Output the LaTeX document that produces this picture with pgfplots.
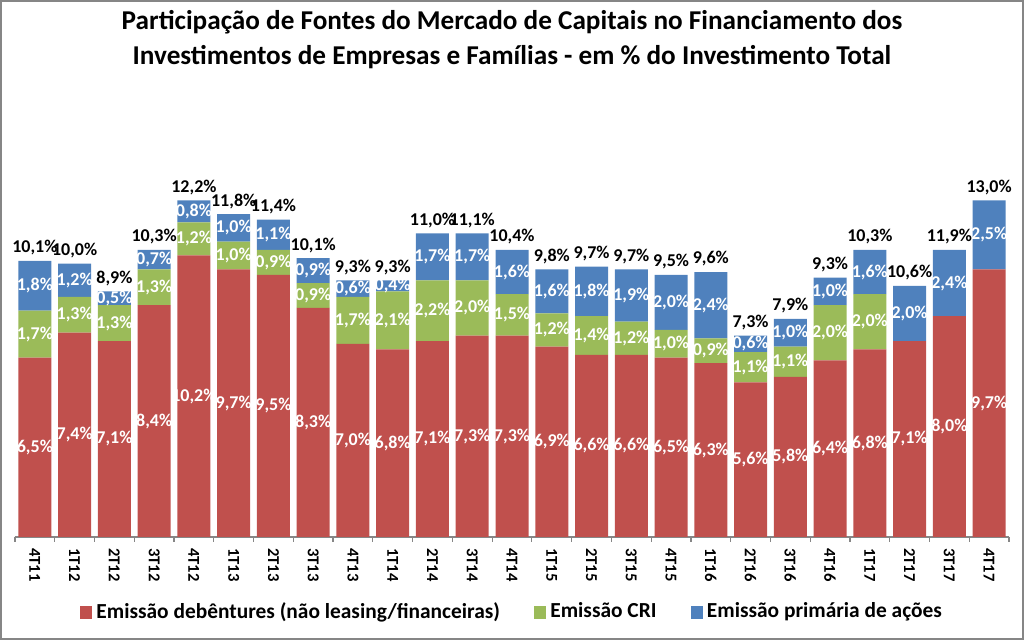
\documentclass[border=0pt]{standalone}
\usepackage{pgfplots}
\pgfplotsset{compat=1.18}
\usepackage{pgfplotstable}
\usepackage{fontspec}
\setmainfont{Carlito}
\definecolor{cred}{HTML}{C0504D}
\definecolor{cgreen}{HTML}{9BBB59}
\definecolor{cblue}{HTML}{4F81BD}
\definecolor{cframe}{HTML}{868686}

\pgfplotstableread{
x deb cri aco tot
0 6.5 1.7 1.8 10.1
1 7.4 1.3 1.2 10.0
2 7.1 1.3 0.5 8.9
3 8.4 1.3 0.7 10.3
4 10.2 1.2 0.8 12.2
5 9.7 1.0 1.0 11.8
6 9.5 0.9 1.1 11.4
7 8.3 0.9 0.9 10.1
8 7.0 1.7 0.6 9.3
9 6.8 2.1 0.4 9.3
10 7.1 2.2 1.7 11.0
11 7.3 2.0 1.7 11.1
12 7.3 1.5 1.6 10.4
13 6.9 1.2 1.6 9.8
14 6.6 1.4 1.8 9.7
15 6.6 1.2 1.9 9.7
16 6.5 1.0 2.0 9.5
17 6.3 0.9 2.4 9.6
18 5.6 1.1 0.6 7.3
19 5.8 1.1 1.0 7.9
20 6.4 2.0 1.0 9.3
21 6.8 2.0 1.6 10.3
22 7.1 0 2.0 10.6
23 8.0 0 2.4 11.9
24 9.7 0 2.5 13.0
}\data

\pgfplotsset{
  seglabel/.style={
    visualization depends on={rawy\as\val},
    nodes near coords={\ifdim\val pt>0pt \pgfmathprintnumber{\val}\%\fi},
    every node near coord/.style={anchor=center,
      text=white, inner sep=0pt, font=\bfseries\fontsize{9}{10.8}\selectfont},
  },
  myaxis/.style={
    at={(0pt,0pt)}, anchor=south west,
    scale only axis,
    x=19.88pt, y=13.8pt,
    xmin=-0.5, xmax=24.5, ymin=0, ymax=14,
    clip=false,
    /pgf/number format/.cd, use comma, fixed, fixed zerofill, precision=1, assume math mode=true,
    /pgfplots/.cd,
  },
}

\begin{document}
\begin{tikzpicture}
\path[use as bounding box] (-7.5pt,-51.5pt) rectangle (504.5pt,268.5pt);
\draw[cframe, line width=0.8pt] (-7.1pt,-51.1pt) rectangle (504.1pt,268.1pt);
\node[align=center, font=\bfseries\fontsize{13.6}{17.5}\selectfont] at (248.5pt,248.5pt)
  {Participação de Fontes do Mercado de Capitais no Financiamento dos\\
   Investimentos de Empresas e Famílias - em \% do Investimento Total};
\begin{axis}[
  myaxis,
  ybar stacked, bar width=16.5pt,
  hide y axis,
  axis x line*=bottom,
  x axis line style={cframe, line width=0.8pt},
  xtick={0,...,24},
  xticklabels={4T11,1T12,2T12,3T12,4T12,1T13,2T13,3T13,4T13,1T14,2T14,3T14,4T14,1T15,2T15,3T15,4T15,1T16,2T16,3T16,4T16,1T17,2T17,3T17,4T17},
  minor xtick={-0.5,0.5,...,24.5},
  major tick length=0pt, minor tick length=2.5pt,
  tick align=outside,
  tick style={cframe, line width=0.6pt},
  xticklabel style={rotate=-90, anchor=west, font=\bfseries\fontsize{8.3}{10}\selectfont, xshift=2pt},
  legend style={at={(0.501,-0.194)}, anchor=center, legend columns=-1, draw=none,
    font=\bfseries\fontsize{10.7}{12}\selectfont,
    /tikz/every even column/.append style={column sep=15pt}},
  legend image code/.code={\fill[#1] (0pt,-3.4pt) rectangle (6.2pt,2.8pt);},
]
\addplot[fill=cred, draw=none, seglabel] table[x=x, y=deb] {\data};
\addplot[fill=cgreen, draw=none, seglabel] table[x=x, y=cri] {\data};
\addplot[fill=cblue, draw=none, seglabel] table[x=x, y=aco] {\data};
\legend{Emissão debêntures (não leasing/financeiras), Emissão CRI, Emissão primária de ações}
\end{axis}
\begin{axis}[myaxis, hide axis]
\addplot[draw=none, mark=none,
  point meta=\thisrow{tot},
  nodes near coords={\pgfmathprintnumber{\pgfplotspointmeta}\%},
  every node near coord/.style={anchor=south, text=black, inner sep=2.6pt, font=\bfseries\fontsize{9}{10.8}\selectfont}]
  table[x=x, y expr=\thisrow{deb}+\thisrow{cri}+\thisrow{aco}] {\data};
\end{axis}
\end{tikzpicture}
\end{document}
